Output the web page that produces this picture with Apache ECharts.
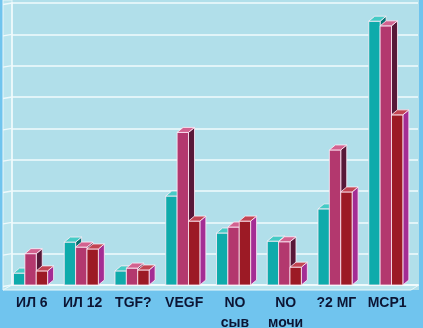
<!DOCTYPE html>
<html><head><meta charset="utf-8">
<script src="https://cdn.jsdelivr.net/npm/echarts@6/dist/echarts.min.js"></script>
<style>html,body{margin:0;padding:0;background:#70C4EE}#c{width:423px;height:328px}</style>
</head><body><div id="c"></div>
<script>
const categories = ['ИЛ 6', 'ИЛ 12', 'TGF?', 'VEGF', 'NO\nсыв', 'NO\nмочи', '?2 МГ', 'МСР1'];
const series1 = [0.38, 1.37, 0.45, 2.84, 1.66, 1.40, 2.43, 8.42];
const series2 = [1.00, 1.21, 0.54, 4.87, 1.85, 1.38, 4.31, 8.27];
const series3 = [0.45, 1.15, 0.48, 2.04, 2.04, 0.57, 2.97, 5.43];
const yTicks = [0, 1, 2, 3, 4, 5, 6, 7, 8, 9];

const palette = [
  {front: '#0FABAB', top: '#45CBC5', side: '#087273'},
  {front: '#B3386E', top: '#D2628F', side: '#581838'},
  {front: '#9C1A25', top: '#C24552', side: '#A42D94'}
];
const DX = 6, DY = 5;

function makeRender(idx) {
  return function (params, api) {
    const cat = api.value(0), val = api.value(1);
    const base = api.coord([cat, 0]);
    const top = api.coord([cat, val]);
    const bw = api.size([1, 0])[0];
    const w = bw * 0.224;
    const x0 = base[0] - bw / 2 + 1.5 + idx * w;
    const x1 = x0 + w;
    const yb = base[1], yt = top[1];
    const c = palette[idx];
    const stroke = {stroke: 'rgba(255,236,248,0.9)', lineWidth: 0.9};
    return {
      type: 'group',
      children: [
        {type: 'polygon', shape: {points: [[x1, yt], [x1 + DX, yt - DY], [x1 + DX, yb - DY], [x1, yb]]},
          style: Object.assign({fill: c.side}, stroke)},
        {type: 'rect', shape: {x: x0, y: yt, width: w, height: yb - yt},
          style: Object.assign({fill: c.front}, stroke)},
        {type: 'polygon', shape: {points: [[x0, yt], [x1, yt], [x1 + DX, yt - DY], [x0 + DX, yt - DY]]},
          style: Object.assign({fill: c.top}, stroke)}
      ]
    };
  };
}

function renderWall(params, api) {
  const p = api.coord([0, api.value(0)]);
  const bw = api.size([1, 0])[0];
  const xl = p[0] - bw / 2;
  return {type: 'line', shape: {x1: xl - 9, y1: p[1] + 1.5, x2: xl, y2: p[1]},
    style: {stroke: '#EEF9FC', lineWidth: 1.4}};
}

function toData(arr) { return arr.map((v, i) => [i, v]); }

const chart = echarts.init(document.getElementById('c'), null, {renderer: 'canvas'});
chart.setOption({
  backgroundColor: '#70C4EE',
  animation: false,
  graphic: [
    {type: 'rect', z: -10, shape: {x: 3, y: 0, width: 416, height: 290}, style: {fill: '#B1DFEA'}},
    {type: 'polygon', z: -9, shape: {points: [[3, 0], [12, 0], [12, 285], [3, 290]]}, style: {fill: '#BBE5EE', stroke: '#E8F7FA', lineWidth: 1}},
    {type: 'polygon', z: -9, shape: {points: [[3, 290], [12, 285], [419, 285], [411, 290]]}, style: {fill: '#BBE5EE', stroke: '#E8F7FA', lineWidth: 1}}
  ],
  grid: {left: 12, right: 5, top: 3, bottom: 43, containLabel: false, outerBoundsMode: 'none'},
  xAxis: {
    type: 'category', data: categories, boundaryGap: true,
    axisLine: {show: true, lineStyle: {color: '#F2FBFD', width: 1.5}},
    axisTick: {show: false},
    axisLabel: {
      interval: 0, margin: 8, lineHeight: 20, padding: [0, 11, 0, 0],
      fontFamily: 'Liberation Sans, Arial, sans-serif', fontWeight: 'bold', fontSize: 14, color: '#0C1534'
    },
    splitLine: {show: false}
  },
  yAxis: {
    type: 'value', min: yTicks[0], max: yTicks[yTicks.length - 1], interval: 1,
    axisLine: {show: true, lineStyle: {color: '#F2FBFD', width: 1.5}},
    axisTick: {show: false},
    axisLabel: {show: false},
    splitLine: {show: true, lineStyle: {color: '#F2FBFD', width: 1.6}}
  },
  series: [
    {name: 'wall', type: 'custom', renderItem: renderWall, data: yTicks.map(v => [v]), z: 1, silent: true},
    {name: 'Серия 1', type: 'custom', renderItem: makeRender(0), data: toData(series1), z: 3},
    {name: 'Серия 2', type: 'custom', renderItem: makeRender(1), data: toData(series2), z: 4},
    {name: 'Серия 3', type: 'custom', renderItem: makeRender(2), data: toData(series3), z: 5}
  ]
});
</script></body></html>
